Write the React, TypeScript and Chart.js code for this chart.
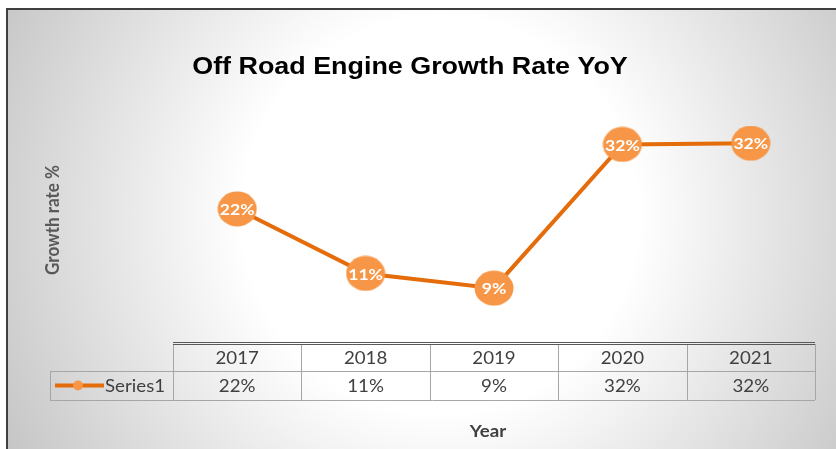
import React, { useEffect, useRef } from "react";
import { Chart, registerables } from "chart.js";
Chart.register(...registerables);

const years = ["2017", "2018", "2019", "2020", "2021"];
const growth = [21.5, 11, 8.6, 32, 32.2];
const seriesName = "Series1";
const chartTitle = "Off Road Engine Growth Rate YoY";
const yTitle = "Growth rate %";
const xTitle = "Year";

const LINE = "#E46C0A";
const MARK = "#F79646";
const FONT = "Lato, 'Open Sans', sans-serif";
const HS = 1.1;

const pct = (v: number) => Math.round(v) + "%";

function txt(ctx: CanvasRenderingContext2D, s: string, x: number, y: number, hs = HS) {
  ctx.save();
  ctx.translate(x, y);
  ctx.scale(hs, 1);
  ctx.fillText(s, 0, 0);
  ctx.restore();
}

const extras = {
  id: "extras",
  beforeDraw(chart: any) {
    const { ctx, width, height } = chart;
    ctx.save();
    ctx.fillStyle = "#ffffff";
    ctx.fillRect(0, 0, width, height);
    const g = ctx.createRadialGradient(440, 215, 0, 440, 215, 520);
    g.addColorStop(0, "#ffffff");
    g.addColorStop(0.38, "#ffffff");
    g.addColorStop(1, "#c0c0c0");
    ctx.fillStyle = g;
    ctx.fillRect(7, 9, width - 7, height - 9);
    ctx.strokeStyle = "#3f3f3f";
    ctx.lineWidth = 2;
    ctx.beginPath();
    ctx.moveTo(7, height);
    ctx.lineTo(7, 9);
    ctx.lineTo(width, 9);
    ctx.stroke();
    ctx.restore();
  },
  afterDatasetsDraw(chart: any) {
    const { ctx, chartArea } = chart;
    const xs = chart.scales.x;
    const meta = chart.getDatasetMeta(0);
    ctx.save();
    ctx.textAlign = "center";
    ctx.textBaseline = "middle";
    // point labels
    ctx.fillStyle = "#ffffff";
    ctx.font = `bold 16px ${FONT}`;
    meta.data.forEach((pt: any, i: number) => {
      txt(ctx, pct(growth[i]), pt.x, pt.y + 1);
    });

    // title
    ctx.fillStyle = "#000000";
    ctx.font = "bold 24px 'Liberation Sans', Arial, sans-serif";
    txt(ctx, chartTitle, 410, 67, 1.12);

    // y title
    ctx.save();
    ctx.translate(53, 220);
    ctx.rotate(-Math.PI / 2);
    ctx.fillStyle = "#595959";
    ctx.font = `bold 17px ${FONT}`;
    ctx.scale(1, HS);
    ctx.fillText(yTitle, 0, 0);
    ctx.restore();

    // table
    const n = years.length;
    const bw = (chartArea.right - chartArea.left) / n;
    const top = 344;
    const mid = 371;
    const bot = 400;
    const left = chartArea.left;
    const right = chartArea.right;
    const legL = 50;
    ctx.strokeStyle = "#a6a6a6";
    ctx.lineWidth = 1;
    ctx.beginPath();
    ctx.moveTo(legL, mid + 0.5);
    ctx.lineTo(right, mid + 0.5);
    ctx.moveTo(legL, bot + 0.5);
    ctx.lineTo(right, bot + 0.5);
    ctx.moveTo(legL + 0.5, mid);
    ctx.lineTo(legL + 0.5, bot);
    for (let i = 0; i <= n; i++) {
      const x = Math.round(left + i * bw) + 0.5;
      ctx.moveTo(x, top);
      ctx.lineTo(x, bot);
    }
    ctx.stroke();
    ctx.strokeStyle = "#595959";
    ctx.lineWidth = 1;
    ctx.beginPath();
    ctx.moveTo(left, top - 1.5);
    ctx.lineTo(right, top - 1.5);
    ctx.moveTo(left, top + 0.5);
    ctx.lineTo(right, top + 0.5);
    ctx.stroke();

    ctx.fillStyle = "#404040";
    ctx.font = `17px ${FONT}`;
    years.forEach((y, i) => {
      const cx = xs.getPixelForValue(i);
      txt(ctx, y, cx, (top + mid) / 2 + 1);
      txt(ctx, pct(growth[i]), cx, (mid + bot) / 2 + 1);
    });

    // legend key
    const ly = (mid + bot) / 2;
    ctx.strokeStyle = LINE;
    ctx.lineWidth = 4;
    ctx.beginPath();
    ctx.moveTo(55, ly);
    ctx.lineTo(104, ly);
    ctx.stroke();
    ctx.fillStyle = MARK;
    ctx.beginPath();
    ctx.arc(78, ly, 5, 0, Math.PI * 2);
    ctx.fill();
    ctx.fillStyle = "#404040";
    ctx.textAlign = "left";
    txt(ctx, seriesName, 105, ly + 1);

    // x title
    ctx.textAlign = "center";
    ctx.fillStyle = "#404040";
    ctx.font = `bold 17px ${FONT}`;
    txt(ctx, xTitle, 488, 432);
    ctx.restore();
  },
};

export default function App() {
  const ref = useRef<HTMLCanvasElement>(null);
  useEffect(() => {
    document.body.style.margin = "0";
    const marker = document.createElement("canvas");
    marker.width = 40;
    marker.height = 36;
    const mc = marker.getContext("2d")!;
    mc.fillStyle = MARK;
    mc.beginPath();
    mc.ellipse(20, 18, 19.5, 17.5, 0, 0, Math.PI * 2);
    mc.fill();
    const chart = new Chart(ref.current!, {
      type: "line",
      data: {
        labels: years,
        datasets: [
          {
            label: seriesName,
            data: growth,
            borderColor: LINE,
            borderWidth: 4,
            backgroundColor: MARK,
            pointStyle: marker as any,
            pointBackgroundColor: MARK,
            pointBorderWidth: 0,
            pointRadius: 18,
            pointHoverRadius: 18,
            tension: 0,
          },
        ],
      },
      plugins: [extras],
      options: {
        responsive: false,
        animation: false,
        layout: { padding: { left: 173, right: 21, top: 126, bottom: 108 } },
        plugins: { legend: { display: false }, tooltip: { enabled: false }, title: { display: false } },
        scales: {
          x: { type: "category", offset: true, display: false },
          y: { min: 0, max: 35, display: false },
        },
      },
    });
    return () => chart.destroy();
  }, []);
  return <canvas ref={ref} width={836} height={449} style={{ display: "block" }} />;
}
